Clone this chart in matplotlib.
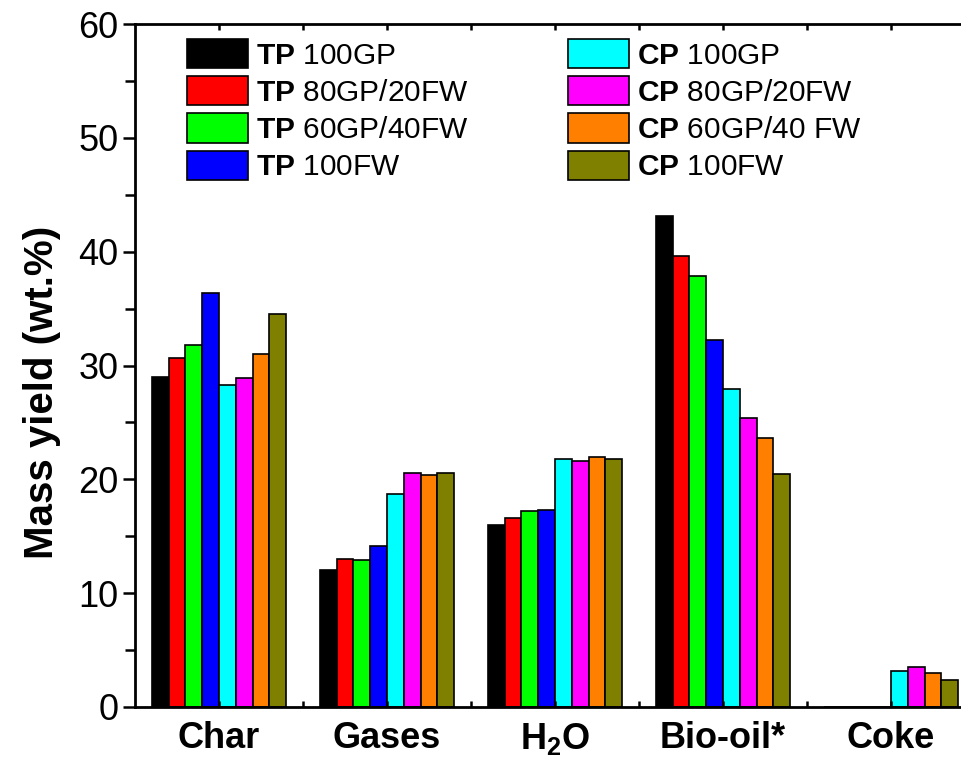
import numpy as np
import matplotlib
matplotlib.use('Agg')
import matplotlib.pyplot as plt
from matplotlib.patches import Patch

plt.rcParams.update({
    'font.family': 'Liberation Sans',
    'mathtext.fontset': 'custom',
    'mathtext.rm': 'Liberation Sans',
    'mathtext.bf': 'Liberation Sans:bold',
})

categories = ['Char', 'Gases', r'H$_\mathbf{2}$O', 'Bio-oil*', 'Coke']
series = ['TP 100GP', 'TP 80GP/20FW', 'TP 60GP/40FW', 'TP 100FW',
          'CP 100GP', 'CP 80GP/20FW', 'CP 60GP/40 FW', 'CP 100FW']
colors = ['#000000', '#ff0000', '#00ff00', '#0000ff',
          '#00ffff', '#ff00ff', '#ff8000', '#808000']

tp_100gp = [29.0, 12.0, 16.0, 43.1, 0.0]
tp_80_20 = [30.7, 13.0, 16.6, 39.6, 0.0]
tp_60_40 = [31.8, 12.9, 17.2, 37.9, 0.0]
tp_100fw = [36.4, 14.1, 17.3, 32.2, 0.0]
cp_100gp = [28.3, 18.7, 21.8, 27.9, 3.2]
cp_80_20 = [28.9, 20.6, 21.6, 25.4, 3.5]
cp_60_40 = [31.0, 20.4, 22.0, 23.6, 3.0]
cp_100fw = [34.5, 20.6, 21.8, 20.5, 2.4]
values = [tp_100gp, tp_80_20, tp_60_40, tp_100fw,
          cp_100gp, cp_80_20, cp_60_40, cp_100fw]

fig = plt.figure(figsize=(9.61, 7.66), dpi=100)
# axes runs past the right edge like the original (right spine cropped off)
ax = fig.add_axes([135/961, 59/766, 840/961, 683/766])

x = np.arange(1, len(categories) + 1)
w = 0.1
for i, (vals, c) in enumerate(zip(values, colors)):
    ax.bar(x + (i - 3.5) * w, vals, width=w, color=c, edgecolor='black', linewidth=1.2)

ax.set_xlim(0.5, 5.5)
ax.set_ylim(0, 60)
ax.set_xticks(x)
ax.set_xticks(np.arange(1.5, 5.5, 1), minor=True)
ax.set_xticklabels(categories, fontsize=26, fontweight='bold')
ax.set_yticks(np.arange(0, 61, 10))
ax.set_yticks(np.arange(5, 60, 10), minor=True)
ax.tick_params(axis='y', which='major', direction='out', length=9, width=1.8, labelsize=26, pad=3)
ax.tick_params(axis='y', which='minor', direction='out', length=7, width=1.8)
ax.tick_params(axis='x', which='both', direction='in', length=4, width=1.8, top=True, pad=10)
for s in ax.spines.values():
    s.set_linewidth(2)

ax.set_ylabel('Mass yield (wt.%)', fontsize=29, fontweight='bold')
ax.yaxis.set_label_coords(-0.088, 0.46)

def lab(s):
    head, rest = s.split(' ', 1)
    return r'$\mathbf{' + head + '}$ ' + rest

handles = [Patch(facecolor=c, edgecolor='black', linewidth=1.2) for c in colors]
leg_kw = dict(frameon=False, fontsize=21.5, handlelength=2.05, handleheight=1.12,
              handletextpad=0.25, labelspacing=0.22, borderpad=0, borderaxespad=0,
              loc='upper left')
leg1 = ax.legend(handles[:4], [lab(s) for s in series[:4]],
                 bbox_to_anchor=(187/961, 1 - 39/766), bbox_transform=fig.transFigure, **leg_kw)
ax.add_artist(leg1)
ax.legend(handles[4:], [lab(s) for s in series[4:]],
          bbox_to_anchor=(568/961, 1 - 39/766), bbox_transform=fig.transFigure, **leg_kw)

fig.savefig('out.png', dpi=100)
